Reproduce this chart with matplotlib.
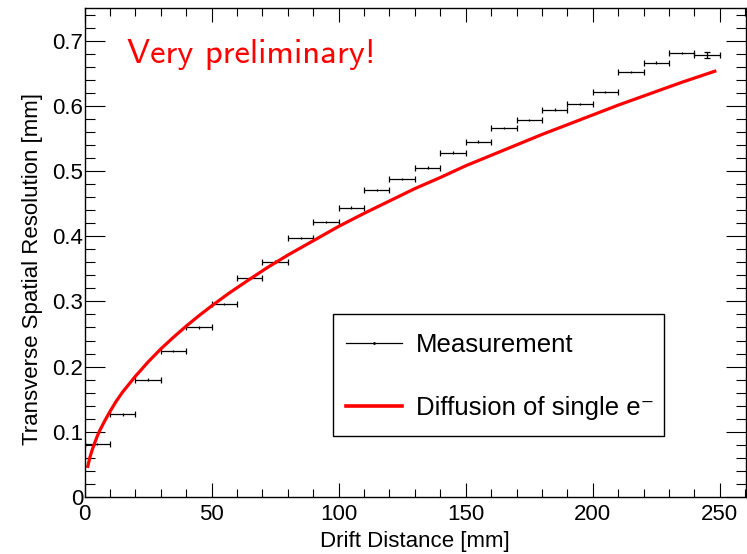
import matplotlib
matplotlib.use("Agg")
import matplotlib.pyplot as plt
from matplotlib.lines import Line2D
from matplotlib.patches import Rectangle
from matplotlib.ticker import MultipleLocator

# Measurement: 10 mm wide drift-distance bins
bin_centers = [5, 15, 25, 35, 45, 55, 65, 75, 85, 95, 105, 115, 125,
               135, 145, 155, 165, 175, 185, 195, 205, 215, 225, 235, 245]
resolution = [0.081, 0.127, 0.180, 0.224, 0.260, 0.296, 0.336, 0.361,
              0.397, 0.422, 0.444, 0.471, 0.488, 0.505, 0.528, 0.545,
              0.566, 0.578, 0.594, 0.603, 0.621, 0.652, 0.666, 0.681, 0.678]
resolution_err = [0.002] * 24 + [0.004]
bin_half_width = 5

# Diffusion of single electron
diff_x = [1.3, 2, 3, 4, 5, 6, 8, 10, 12.5, 15, 17.5, 20, 25, 30, 35, 40,
          45, 50, 57, 65, 72, 80, 90, 100, 110, 120, 130, 140, 150, 160,
          170, 180, 190, 200, 210, 220, 235, 248]
diff_y = [0.047, 0.059, 0.072, 0.083, 0.093, 0.102, 0.117, 0.131, 0.147,
          0.161, 0.173, 0.185, 0.207, 0.227, 0.245, 0.262, 0.278, 0.293,
          0.313, 0.334, 0.352, 0.371, 0.393, 0.415, 0.435, 0.454, 0.473,
          0.490, 0.508, 0.524, 0.540, 0.556, 0.571, 0.586, 0.601, 0.615,
          0.636, 0.653]

plt.rcParams['font.family'] = ['Liberation Sans', 'DejaVu Sans']

fig = plt.figure(figsize=(7.47, 5.54), dpi=100)
ax = fig.add_axes([84.5 / 747, 57 / 554, 661.5 / 747, 489 / 554])

# horizontal bin widths with end caps, tiny vertical errors
ax.errorbar(bin_centers, resolution, xerr=bin_half_width, fmt='none',
            ecolor='black', elinewidth=0.9, capsize=2.2, capthick=0.9)
ax.errorbar(bin_centers[:-1], resolution[:-1], yerr=resolution_err[:-1],
            fmt='none', ecolor='black', elinewidth=0.9, capsize=0)
ax.errorbar(bin_centers[-1:], resolution[-1:], yerr=resolution_err[-1:],
            fmt='none', ecolor='black', elinewidth=0.9, capsize=2.2, capthick=0.9)
ax.plot(diff_x, diff_y, color='red', lw=2.3)

ax.set_xlim(0, 260.3)
ax.set_ylim(0, 0.75)
ax.xaxis.set_major_locator(MultipleLocator(50))
ax.xaxis.set_minor_locator(MultipleLocator(10))
ax.yaxis.set_major_locator(MultipleLocator(0.1))
ax.yaxis.set_minor_locator(MultipleLocator(0.02))
ax.yaxis.set_major_formatter(plt.FuncFormatter(lambda v, _: '0' if abs(v) < 1e-9 else f'{v:.1f}'))

ax.tick_params(which='both', direction='in', top=True, right=True, width=0.8,
               labelsize=16, color='black')
ax.tick_params(axis='x', which='major', length=10, pad=5)
ax.tick_params(axis='x', which='minor', length=5.5)
ax.tick_params(axis='y', which='major', length=14.5, pad=1)
ax.tick_params(axis='y', which='minor', length=7.5)
for sp in ax.spines.values():
    sp.set_linewidth(1.0)
    sp.set_color('black')

ax.set_xlabel('Drift Distance [mm]', fontsize=16)
ax.set_ylabel('Transverse Spatial Resolution [mm]', fontsize=16)
ax.xaxis.set_label_coords(0.5, -0.070)
ax.yaxis.set_label_coords(-0.062, 0.467)

ax.text(0.0643, 0.8875, 'Very preliminary!', transform=ax.transAxes,
        color='red', fontsize=25, family='cmss10', va='baseline', ha='left')

# legend box drawn at fixed size, like ROOT's TLegend
x0, y0 = (333 - 84.5) / 661.5, (497 - 436) / 489
ax.add_patch(Rectangle((x0, y0), 331 / 661.5, 122 / 489, transform=ax.transAxes,
                       fill=True, facecolor='white', edgecolor='black',
                       lw=1.0, zorder=4))
handles = [Line2D([], [], color='black', lw=0.9, marker='.', markersize=2),
           Line2D([], [], color='red', lw=2.6)]
labels = ['Measurement', 'Diffusion of single e\u207b']
leg = ax.legend(handles, labels, loc='upper left',
                bbox_to_anchor=((345.5 - 84.5) / 661.5, (497 - 333) / 489),
                borderaxespad=0, borderpad=0, fontsize=18.5, frameon=False,
                labelspacing=1.5, handlelength=2.2, handletextpad=0.55)
leg.set_zorder(5)

fig.savefig('out.png', dpi=100)
